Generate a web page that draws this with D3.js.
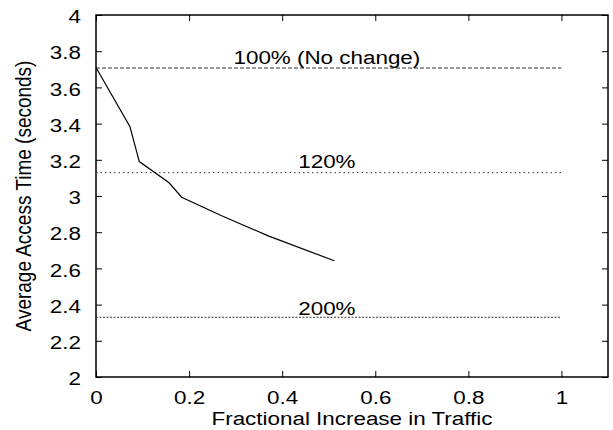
<!DOCTYPE html>
<html>
<head>
<meta charset="utf-8">
<script src="https://cdn.jsdelivr.net/npm/d3@7"></script>
<style>
  html, body { margin: 0; padding: 0; background: #fff; }
  svg { display: block; }
  text { font-family: "Liberation Sans", Arial, Helvetica, sans-serif; fill: #000; }
</style>
</head>
<body>
<svg id="chart" width="613" height="430"></svg>
<script>
// Access time as traffic grows
const trafficIncrease = [0, 0.073, 0.093, 0.157, 0.184, 0.27, 0.37, 0.512];
const accessTime      = [3.71, 3.383, 3.19, 3.073, 2.993, 2.891, 2.78, 2.642];

// Reference levels (horizontal lines) and their captions
const refLabels = ["100% (No change)", "120%", "200%"];
const refValues = [3.707, 3.129, 2.33];
const refDashes = ["4,2", "1.5,3", "2,1.5"];

const xTicks = [0, 0.2, 0.4, 0.6, 0.8, 1];
const yTicks = [2, 2.2, 2.4, 2.6, 2.8, 3, 3.2, 3.4, 3.6, 3.8, 4];
const yTickLabels = ["2", "2.2", "2.4", "2.6", "2.8", "3", "3.2", "3.4", "3.6", "3.8", "4"];

const svg = d3.select("#chart");
const plotLeft = 96, plotRight = 608, plotTop = 15, plotBottom = 377;
const fontSize = 19;
const sx = 1.18;          // glyphs are drawn slightly wide
const tickLen = 6;

const x = d3.scaleLinear().domain([0, 1.1]).range([plotLeft, plotRight]);
const y = d3.scaleLinear().domain([2, 4]).range([plotBottom, plotTop]);

// Places a horizontally widened text with its anchor at (px, py)
function wideText(parent, px, py, str, anchor) {
  return parent.append("text")
    .attr("transform", `translate(${px},${py}) scale(${sx},1)`)
    .attr("text-anchor", anchor)
    .attr("font-size", fontSize)
    .text(str);
}

// Axes with inward ticks on all four sides
const gBottom = svg.append("g").attr("transform", `translate(0,${plotBottom})`)
  .call(d3.axisBottom(x).tickValues(xTicks).tickSizeInner(-tickLen).tickSizeOuter(0)
        .tickPadding(14).tickFormat(d => d3.format("")(d)));
const gTop = svg.append("g").attr("transform", `translate(0,${plotTop})`)
  .call(d3.axisTop(x).tickValues(xTicks).tickSizeInner(-tickLen).tickSizeOuter(0).tickFormat(""));
const gLeft = svg.append("g").attr("transform", `translate(${plotLeft},0)`)
  .call(d3.axisLeft(y).tickValues(yTicks).tickSizeInner(-tickLen).tickSizeOuter(0)
        .tickPadding(15).tickFormat((d, i) => yTickLabels[i]));
const gRight = svg.append("g").attr("transform", `translate(${plotRight},0)`)
  .call(d3.axisRight(y).tickValues(yTicks).tickSizeInner(-tickLen).tickSizeOuter(0).tickFormat(""));

[gBottom, gTop, gLeft, gRight].forEach(g => {
  g.select(".domain").remove();
  g.selectAll(".tick line").attr("stroke", "#000").attr("stroke-width", 1);
  g.selectAll("text")
    .attr("font-size", fontSize)
    .attr("font-family", "Liberation Sans, Arial, sans-serif")
    .attr("fill", "#000");
});
gBottom.selectAll("text").attr("transform", `scale(${sx},1)`);
gLeft.selectAll("text")
  .attr("x", -15 / sx)
  .attr("dy", "0.4em")
  .attr("transform", `scale(${sx},1)`);

// Frame
svg.append("rect")
  .attr("x", plotLeft).attr("y", plotTop)
  .attr("width", plotRight - plotLeft).attr("height", plotBottom - plotTop)
  .attr("fill", "none").attr("stroke", "#000").attr("stroke-width", 1.5);

// Reference lines with captions just above them
const captionLift = [4.5, 4.5, 2.5];
refValues.forEach((v, i) => {
  svg.append("line")
    .attr("x1", x(0)).attr("x2", x(1))
    .attr("y1", y(v)).attr("y2", y(v))
    .attr("stroke", "#333").attr("stroke-width", 1)
    .attr("stroke-dasharray", refDashes[i]);
  wideText(svg, x(0.496), y(v) - captionLift[i], refLabels[i], "middle");
});

// Curve
const line = d3.line().x((d, i) => x(trafficIncrease[i])).y(d => y(d));
svg.append("path")
  .datum(accessTime)
  .attr("d", line)
  .attr("fill", "none")
  .attr("stroke", "#000")
  .attr("stroke-width", 1.2);

// Axis titles
wideText(svg, (plotLeft + plotRight) / 2, 425, "Fractional Increase in Traffic", "middle");

svg.append("text")
  .attr("transform", `translate(31,${(plotTop + plotBottom) / 2}) scale(${sx},1) rotate(-90)`)
  .attr("text-anchor", "middle")
  .attr("font-size", fontSize)
  .text("Average Access Time (seconds)");
</script>
</body>
</html>
